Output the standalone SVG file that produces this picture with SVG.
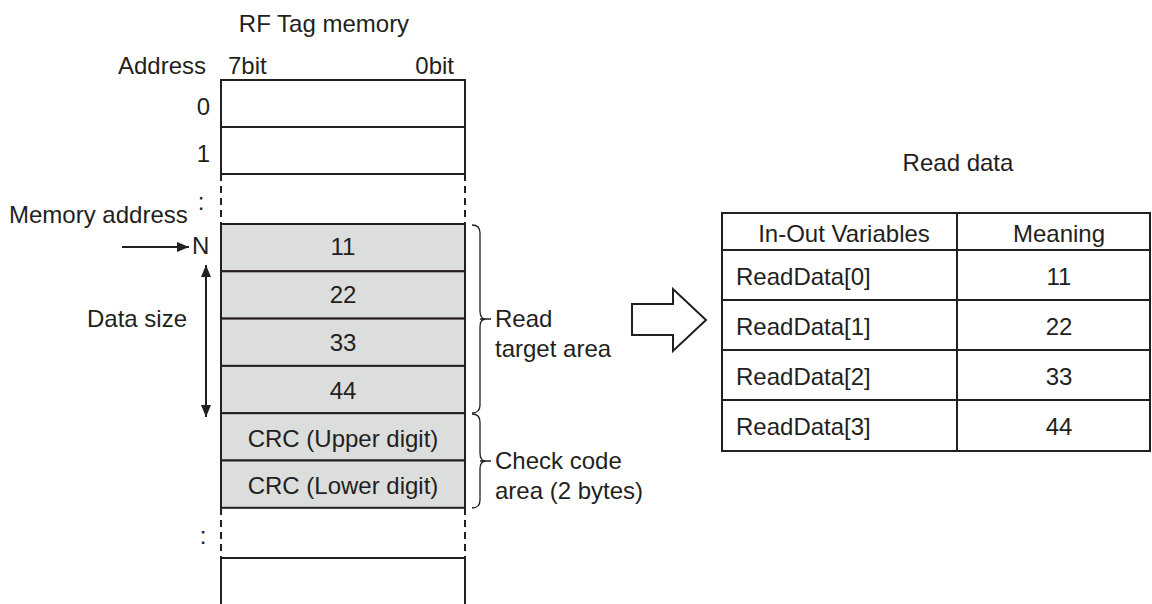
<svg xmlns="http://www.w3.org/2000/svg" width="1152" height="604" viewBox="0 0 1152 604">
<defs>
<style>
text{font-family:"Liberation Sans",Arial,Helvetica,sans-serif;font-size:24px;fill:#231f20}
.m{text-anchor:middle}
.e{text-anchor:end}
.cell{fill:#dcdddd;stroke:#231f20;stroke-width:2}
.blank{fill:#fff;stroke:#231f20;stroke-width:2}
.ln{stroke:#231f20;stroke-width:2;fill:none}
.dash{stroke:#231f20;stroke-width:2;stroke-dasharray:7 5;fill:none}
.brace{stroke:#231f20;stroke-width:1.3;fill:none}
</style>
<marker id="ah" viewBox="0 0 12 10" refX="12" refY="5" markerWidth="12" markerHeight="10" markerUnits="userSpaceOnUse" orient="auto-start-reverse">
<path d="M0,0 L12,5 L0,10 Z" fill="#231f20"/>
</marker>
</defs>
<rect width="1152" height="604" fill="#fff"/>

<text id="title-mem" class="m" x="324" y="32">RF Tag memory</text>
<text class="e" x="206" y="74">Address</text>
<text x="228" y="74">7bit</text>
<text class="e" x="454" y="74">0bit</text>

<g id="row0"><rect class="blank" x="221" y="80" width="244" height="47"/><text class="e" x="210" y="115">0</text></g>
<g id="row1"><rect class="blank" x="221" y="127" width="244" height="47"/><text class="e" x="210" y="162">1</text></g>
<g id="gap1"><path class="dash" d="M221,174 V224 M465,174 V224"/><text class="m" x="201" y="210">:</text></g>

<g id="rowN"><rect class="cell" x="221" y="224" width="244" height="47.3"/><text class="m" x="343" y="255">11</text></g>
<g id="rowN1"><rect class="cell" x="221" y="271.3" width="244" height="47.3"/><text class="m" x="343" y="303">22</text></g>
<g id="rowN2"><rect class="cell" x="221" y="318.6" width="244" height="47.3"/><text class="m" x="343" y="351">33</text></g>
<g id="rowN3"><rect class="cell" x="221" y="365.9" width="244" height="47.3"/><text class="m" x="343" y="399">44</text></g>
<g id="crcU"><rect class="cell" x="221" y="413.2" width="244" height="47.3"/><text class="m" x="343" y="447">CRC (Upper digit)</text></g>
<g id="crcL"><rect class="cell" x="221" y="460.5" width="244" height="47.3"/><text class="m" x="343" y="494">CRC (Lower digit)</text></g>
<g id="gap2"><path class="dash" d="M221,508 V558 M465,508 V558"/><text class="m" x="203" y="544">:</text></g>
<g id="rowLast"><path class="ln" d="M221,604 V558 H465 V604"/></g>

<g id="memaddr"><text x="9" y="223">Memory address</text><text x="192" y="254">N</text></g>
<g id="datasize"><text class="e" x="187" y="327">Data size</text></g>

<g id="connectors">
<line class="ln" x1="122" y1="247" x2="189" y2="247" stroke-width="1.8" marker-end="url(#ah)"/>
<line class="ln" x1="206" y1="265" x2="206" y2="417" stroke-width="1.8" marker-start="url(#ah)" marker-end="url(#ah)"/>
<path class="brace" d="M472,225 Q480,225 480,233 V311 Q480,319 486,319 M480,319 H491 M486,319 Q480,319 480,327 V405 Q480,413 472,413"/>
<path class="brace" d="M472,414 Q480,414 480,422 V453 Q480,461 486,461 M480,461 H491 M486,461 Q480,461 480,469 V500 Q480,508 472,508"/>
<polygon class="ln" points="632,304 673,304 673,289 706,320 673,351 673,335 632,335" fill="#fff"/>
</g>

<g id="readtarget"><text x="495" y="327">Read</text><text x="495" y="357">target area</text></g>
<g id="checkcode"><text x="495" y="469">Check code</text><text x="495" y="499">area (2 bytes)</text></g>

<g id="readdata-table">
<text class="m" x="958" y="171">Read data</text>
<rect class="ln" x="722" y="213" width="428" height="238"/>
<path class="ln" d="M722,250 H1150 M722,300 H1150 M722,350 H1150 M722,400 H1150 M957,213 V451"/>
<text class="m" x="844" y="242">In-Out Variables</text>
<text class="m" x="1059" y="242">Meaning</text>
<text x="736" y="285">ReadData[0]</text><text class="m" x="1059" y="285">11</text>
<text x="736" y="335">ReadData[1]</text><text class="m" x="1059" y="335">22</text>
<text x="736" y="385">ReadData[2]</text><text class="m" x="1059" y="385">33</text>
<text x="736" y="435">ReadData[3]</text><text class="m" x="1059" y="435">44</text>
</g>
</svg>
